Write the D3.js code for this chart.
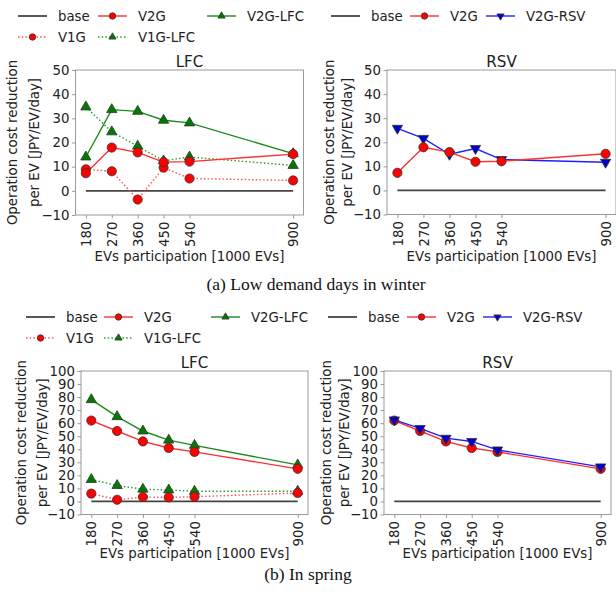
<!DOCTYPE html>
<html><head><meta charset="utf-8">
<script src="https://cdn.jsdelivr.net/npm/d3@7"></script>
<style>body{margin:0;background:#fff}svg{display:block}</style>
</head><body>
<script>
const xCats = [180, 270, 360, 450, 540, 900];
const baseVals = [0, 0, 0, 0, 0, 0];
const winterV2G = [7.3, 17.9, 15.9, 11.9, 12.1, 15.2];
const winterV1G = [8.9, 8.1, -3.6, 9.6, 5.1, 4.3];
const winterV2GLFC = [14.0, 33.6, 32.9, 29.2, 28.1, 15.4];
const winterV1GLFC = [34.7, 24.4, 18.5, 12.4, 14.0, 10.5];
const winterV2GRSV = [25.8, 21.6, 15.0, 17.4, 12.8, 11.7];
const springV2G = [62, 54, 46, 41, 38, 25];
const springV1G = [6.0, 1.3, 3.4, 3.1, 3.6, 6.5];
const springV2GLFC = [78, 65, 54, 47, 43, 28];
const springV1GLFC = [16.8, 12.2, 9.4, 8.8, 7.8, 7.8];
const springV2GRSV = [62.5, 56, 48.5, 46, 39.5, 26.5];
const yTicksWinter = [-10, 0, 10, 20, 30, 40, 50];
const yTicksSpring = [-10, 0, 10, 20, 30, 40, 50, 60, 70, 80, 90, 100];
const yLabel = ["Operation cost reduction", "per EV [JPY/EV/day]"];
const xLabel = "EVs participation [1000 EVs]";
const captions = ["(a) Low demand days in winter", "(b) In spring"];

const W = 616, H = 594;
const FONT = "'DejaVu Sans', sans-serif";
const svg = d3.select("body").append("svg").attr("width", W).attr("height", H);

// calibrate font size so the x-axis label is ~190px wide, as in the reference
const probe = svg.append("text").attr("font-family", FONT).attr("font-size", 100).text(xLabel);
const probeLen = probe.node().getComputedTextLength() || 1427;
probe.remove();
const FS = Math.max(12, Math.min(16, 100 * 190 / probeLen));
const FT = FS * 1.14;

const styles = {
  base:     {name: "base", color: "#444", dash: null, marker: null, lw: 1.8},
  V2G:      {name: "V2G", color: "#ff3030", dash: null, marker: "circle", fill: "#ff0000", lw: 1.4},
  V1G:      {name: "V1G", color: "#ff5050", dash: "1.5,2.2", marker: "circle", fill: "#ff0000", lw: 1.4},
  V2GLFC:   {name: "V2G-LFC", color: "#1a8a1a", dash: null, marker: "tri", fill: "#007a00", lw: 1.4},
  V1GLFC:   {name: "V1G-LFC", color: "#2a9a2a", dash: "1.5,2.2", marker: "tri", fill: "#007a00", lw: 1.4},
  V2GRSV:   {name: "V2G-RSV", color: "#2020ff", dash: null, marker: "tridown", fill: "#0000cc", lw: 1.4}
};

function drawMarker(g, type, x, y, fill, size) {
  const s = size || 1;
  if (type === "circle") {
    g.append("circle").attr("cx", x).attr("cy", y).attr("r", 4.6 * s)
      .attr("fill", fill).attr("stroke", "#333").attr("stroke-width", 0.8);
  } else if (type === "tri") {
    g.append("path").attr("d", d3.symbol(d3.symbolTriangle, 46 * s * s)())
      .attr("transform", `translate(${x},${y})`)
      .attr("fill", fill).attr("stroke", "#333").attr("stroke-width", 0.8);
  } else if (type === "tridown") {
    g.append("path").attr("d", d3.symbol(d3.symbolTriangle, 46 * s * s)())
      .attr("transform", `translate(${x},${y}) rotate(180)`)
      .attr("fill", fill).attr("stroke", "#333").attr("stroke-width", 0.8);
  }
}

function panel(cfg) {
  const g = svg.append("g");
  const x = d3.scaleLinear().domain([144, 936]).range([cfg.x0, cfg.x1]);
  const y = d3.scaleLinear().domain(cfg.ydom).range([cfg.y1, cfg.y0]);
  g.append("rect").attr("x", cfg.x0).attr("y", cfg.y0).attr("width", cfg.x1 - cfg.x0)
    .attr("height", cfg.y1 - cfg.y0).attr("fill", "none").attr("stroke", "#999").attr("stroke-width", 1);
  const ya = g.append("g").attr("transform", `translate(${cfg.x0},0)`)
    .call(d3.axisLeft(y).tickValues(cfg.yticks).tickSize(3.5).tickPadding(2.5)
      .tickFormat(d => d < 0 ? "\u2212" + Math.abs(d) : d));
  ya.select(".domain").remove();
  ya.selectAll("line").attr("stroke", "#999");
  ya.selectAll("text").attr("font-family", FONT).attr("font-size", FS).attr("fill", "#222");
  const xa = g.append("g").attr("transform", `translate(0,${cfg.y1})`)
    .call(d3.axisBottom(x).tickValues(xCats).tickSize(3.5).tickPadding(3));
  xa.select(".domain").remove();
  xa.selectAll("line").attr("stroke", "#999");
  xa.selectAll("text").attr("font-family", FONT).attr("font-size", FS).attr("fill", "#222")
    .attr("transform", "rotate(-90)").attr("text-anchor", "end")
    .attr("x", -6.5).attr("y", 0).attr("dy", "0.35em");
  g.append("text").attr("x", (cfg.x0 + cfg.x1) / 2).attr("y", cfg.y0 - 3)
    .attr("text-anchor", "middle").attr("font-family", FONT).attr("font-size", FT)
    .attr("fill", "#222").text(cfg.title);
  g.append("text").attr("x", (cfg.x0 + cfg.x1) / 2).attr("y", cfg.xlabY)
    .attr("text-anchor", "middle").attr("font-family", FONT).attr("font-size", FS)
    .attr("fill", "#222").text(xLabel);
  const cy = (cfg.y0 + cfg.y1) / 2;
  yLabel.forEach((t, i) => {
    g.append("text").attr("transform", `translate(${cfg.ylabX[i]},${cy}) rotate(-90)`)
      .attr("text-anchor", "middle").attr("dy", "0.35em").attr("font-family", FONT)
      .attr("font-size", FS).attr("fill", "#222").text(t);
  });
  const line = d3.line().x((d, i) => x(xCats[i])).y(d => y(d));
  cfg.series.forEach(s => {
    const st = styles[s.key];
    const p = g.append("path").datum(s.values).attr("d", line).attr("fill", "none")
      .attr("stroke", st.color).attr("stroke-width", st.lw);
    if (st.dash) p.attr("stroke-dasharray", st.dash);
  });
  cfg.series.forEach(s => {
    const st = styles[s.key];
    if (!st.marker) return;
    s.values.forEach((v, i) => drawMarker(g, st.marker, x(xCats[i]), y(v), st.fill));
  });
  cfg.legend.forEach(it => {
    const st = styles[it.key];
    const lg = g.append("g");
    const l = lg.append("line").attr("x1", it.x).attr("x2", it.x + 29).attr("y1", it.y).attr("y2", it.y)
      .attr("stroke", st.color).attr("stroke-width", st.key === "base" ? 1.4 : st.lw);
    if (st.dash) l.attr("stroke-dasharray", st.dash);
    if (st.marker) drawMarker(lg, st.marker, it.x + 14.5, it.y, st.fill, 0.7);
    lg.append("text").attr("x", it.x + 40).attr("y", it.y).attr("dy", "0.35em")
      .attr("font-family", FONT).attr("font-size", FS).attr("fill", "#222").text(st.name);
  });
}

panel({
  x0: 75.5, x1: 303.5, y0: 70, y1: 215, ydom: [-10, 50], yticks: yTicksWinter,
  title: "LFC", xlabY: 261, ylabX: [12, 34],
  series: [
    {key: "base", values: baseVals},
    {key: "V1GLFC", values: winterV1GLFC},
    {key: "V1G", values: winterV1G},
    {key: "V2GLFC", values: winterV2GLFC},
    {key: "V2G", values: winterV2G}
  ],
  legend: [
    {key: "base", x: 18, y: 16}, {key: "V2G", x: 98, y: 16}, {key: "V2GLFC", x: 207, y: 16},
    {key: "V1G", x: 18, y: 37}, {key: "V1GLFC", x: 98, y: 37}
  ]
});
panel({
  x0: 387, x1: 616, y0: 70, y1: 214.5, ydom: [-10, 50], yticks: yTicksWinter,
  title: "RSV", xlabY: 261, ylabX: [329, 347],
  series: [
    {key: "base", values: baseVals},
    {key: "V2GRSV", values: winterV2GRSV},
    {key: "V2G", values: winterV2G}
  ],
  legend: [
    {key: "base", x: 331, y: 16}, {key: "V2G", x: 410, y: 16}, {key: "V2GRSV", x: 486, y: 16}
  ]
});
panel({
  x0: 81, x1: 308, y0: 371, y1: 514.5, ydom: [-10, 100], yticks: yTicksSpring,
  title: "LFC", xlabY: 558, ylabX: [21, 42],
  series: [
    {key: "base", values: baseVals},
    {key: "V1GLFC", values: springV1GLFC},
    {key: "V1G", values: springV1G},
    {key: "V2GLFC", values: springV2GLFC},
    {key: "V2G", values: springV2G}
  ],
  legend: [
    {key: "base", x: 26, y: 317}, {key: "V2G", x: 104, y: 317}, {key: "V2GLFC", x: 211, y: 317},
    {key: "V1G", x: 26, y: 338}, {key: "V1GLFC", x: 104, y: 338}
  ]
});
panel({
  x0: 384, x1: 611, y0: 371, y1: 514.5, ydom: [-10, 100], yticks: yTicksSpring,
  title: "RSV", xlabY: 558, ylabX: [326, 344],
  series: [
    {key: "base", values: baseVals},
    {key: "V2G", values: springV2G},
    {key: "V2GRSV", values: springV2GRSV}
  ],
  legend: [
    {key: "base", x: 328, y: 317}, {key: "V2G", x: 407, y: 317}, {key: "V2GRSV", x: 483, y: 317}
  ]
});

svg.append("text").attr("x", 316).attr("y", 290).attr("text-anchor", "middle")
  .attr("font-family", "'Liberation Serif', 'Times New Roman', serif").attr("font-size", 17.5)
  .attr("fill", "#111").text(captions[0]);
svg.append("text").attr("x", 308).attr("y", 580).attr("text-anchor", "middle")
  .attr("font-family", "'Liberation Serif', 'Times New Roman', serif").attr("font-size", 17.5)
  .attr("fill", "#111").text(captions[1]);
</script>
</body></html>
